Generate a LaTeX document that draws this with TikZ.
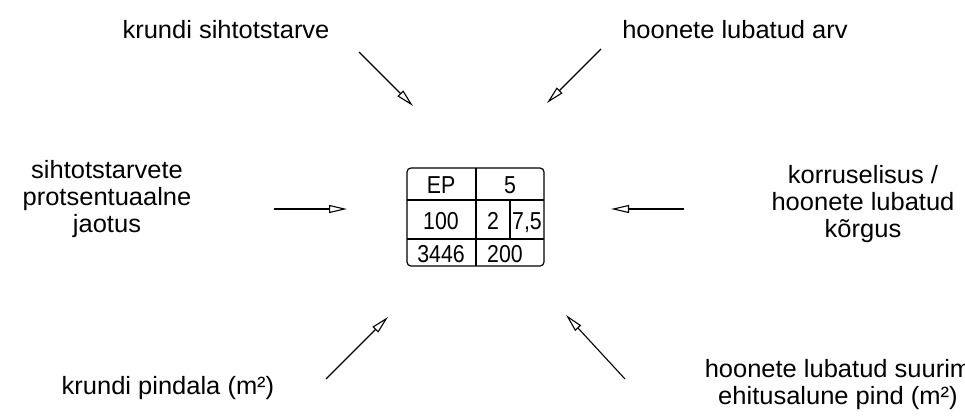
\documentclass[tikz,border=0pt]{standalone}
\usepackage{fontspec}
\setmainfont{Liberation Sans}
\newfontfamily\lblfont{Liberation Sans}[FakeStretch=1.02]
\newfontfamily\cellfont{Liberation Sans}[FakeStretch=0.87]
\usetikzlibrary{arrows.meta}
\begin{document}
\begin{tikzpicture}[x=1pt,y=-1pt,
  lbl/.style={inner sep=0pt,align=center,font=\lblfont\fontsize{25}{27}\selectfont},
  cell/.style={inner sep=0pt,anchor=base,font=\cellfont\fontsize{24.5}{26}\selectfont},
  pointer/.style={line width=1.1pt,-{Triangle[open,length=18pt,width=8pt,line width=1.1pt]}},
  grid/.style={line width=1.2pt}]
\useasboundingbox (0,0) rectangle (965,417);
% labels
\node[lbl] (tl) at (226,30) {krundi sihtotstarve};
\node[lbl] (tr) at (735,30) {hoonete lubatud arv};
\node[lbl] (ml) at (107,199) {sihtotstarvete\\protsentuaalne\\jaotus};
\node[lbl] (mr) at (863,204) {korruselisus /\\hoonete lubatud\\kõrgus};
\node[lbl] (bl) at (168,388) {krundi pindala (m²)};
\node[lbl] (br) at (838,385) {hoonete lubatud suurim\\ehitusalune pind (m²)};
% table
\draw[grid,rounded corners=4pt] (407,168) rectangle (544,266);
\draw[grid] (476,168) -- (476,266);
\draw[grid] (407,200) -- (544,200);
\draw[grid] (407,239) -- (544,239);
\draw[grid] (510,200) -- (510,239);
\node[cell] (c1) at (441,193) {EP};
\node[cell] (c2) at (510,193) {5};
\node[cell] (c3) at (441,229) {100};
\node[cell] (c4) at (493,229) {2};
\node[cell] (c5) at (527,229) {7,5};
\node[cell] (c6) at (441,262) {3446};
\node[cell] (c7) at (505,262) {200};
% arrows
\coordinate (a1s) at (359,52);  \coordinate (a1e) at (413,106);
\coordinate (a2s) at (601,49);  \coordinate (a2e) at (547,103);
\coordinate (a3s) at (274,209); \coordinate (a3e) at (347,209);
\coordinate (a4s) at (684,209); \coordinate (a4e) at (611,209);
\coordinate (a5s) at (326,379); \coordinate (a5e) at (388,317);
\coordinate (a6s) at (625,379); \coordinate (a6e) at (566,315);
\draw[pointer] (a1s) -- (a1e);
\draw[pointer] (a2s) -- (a2e);
\draw[pointer] (a3s) -- (a3e);
\draw[pointer] (a4s) -- (a4e);
\draw[pointer] (a5s) -- (a5e);
\draw[pointer] (a6s) -- (a6e);
\end{tikzpicture}
\end{document}
